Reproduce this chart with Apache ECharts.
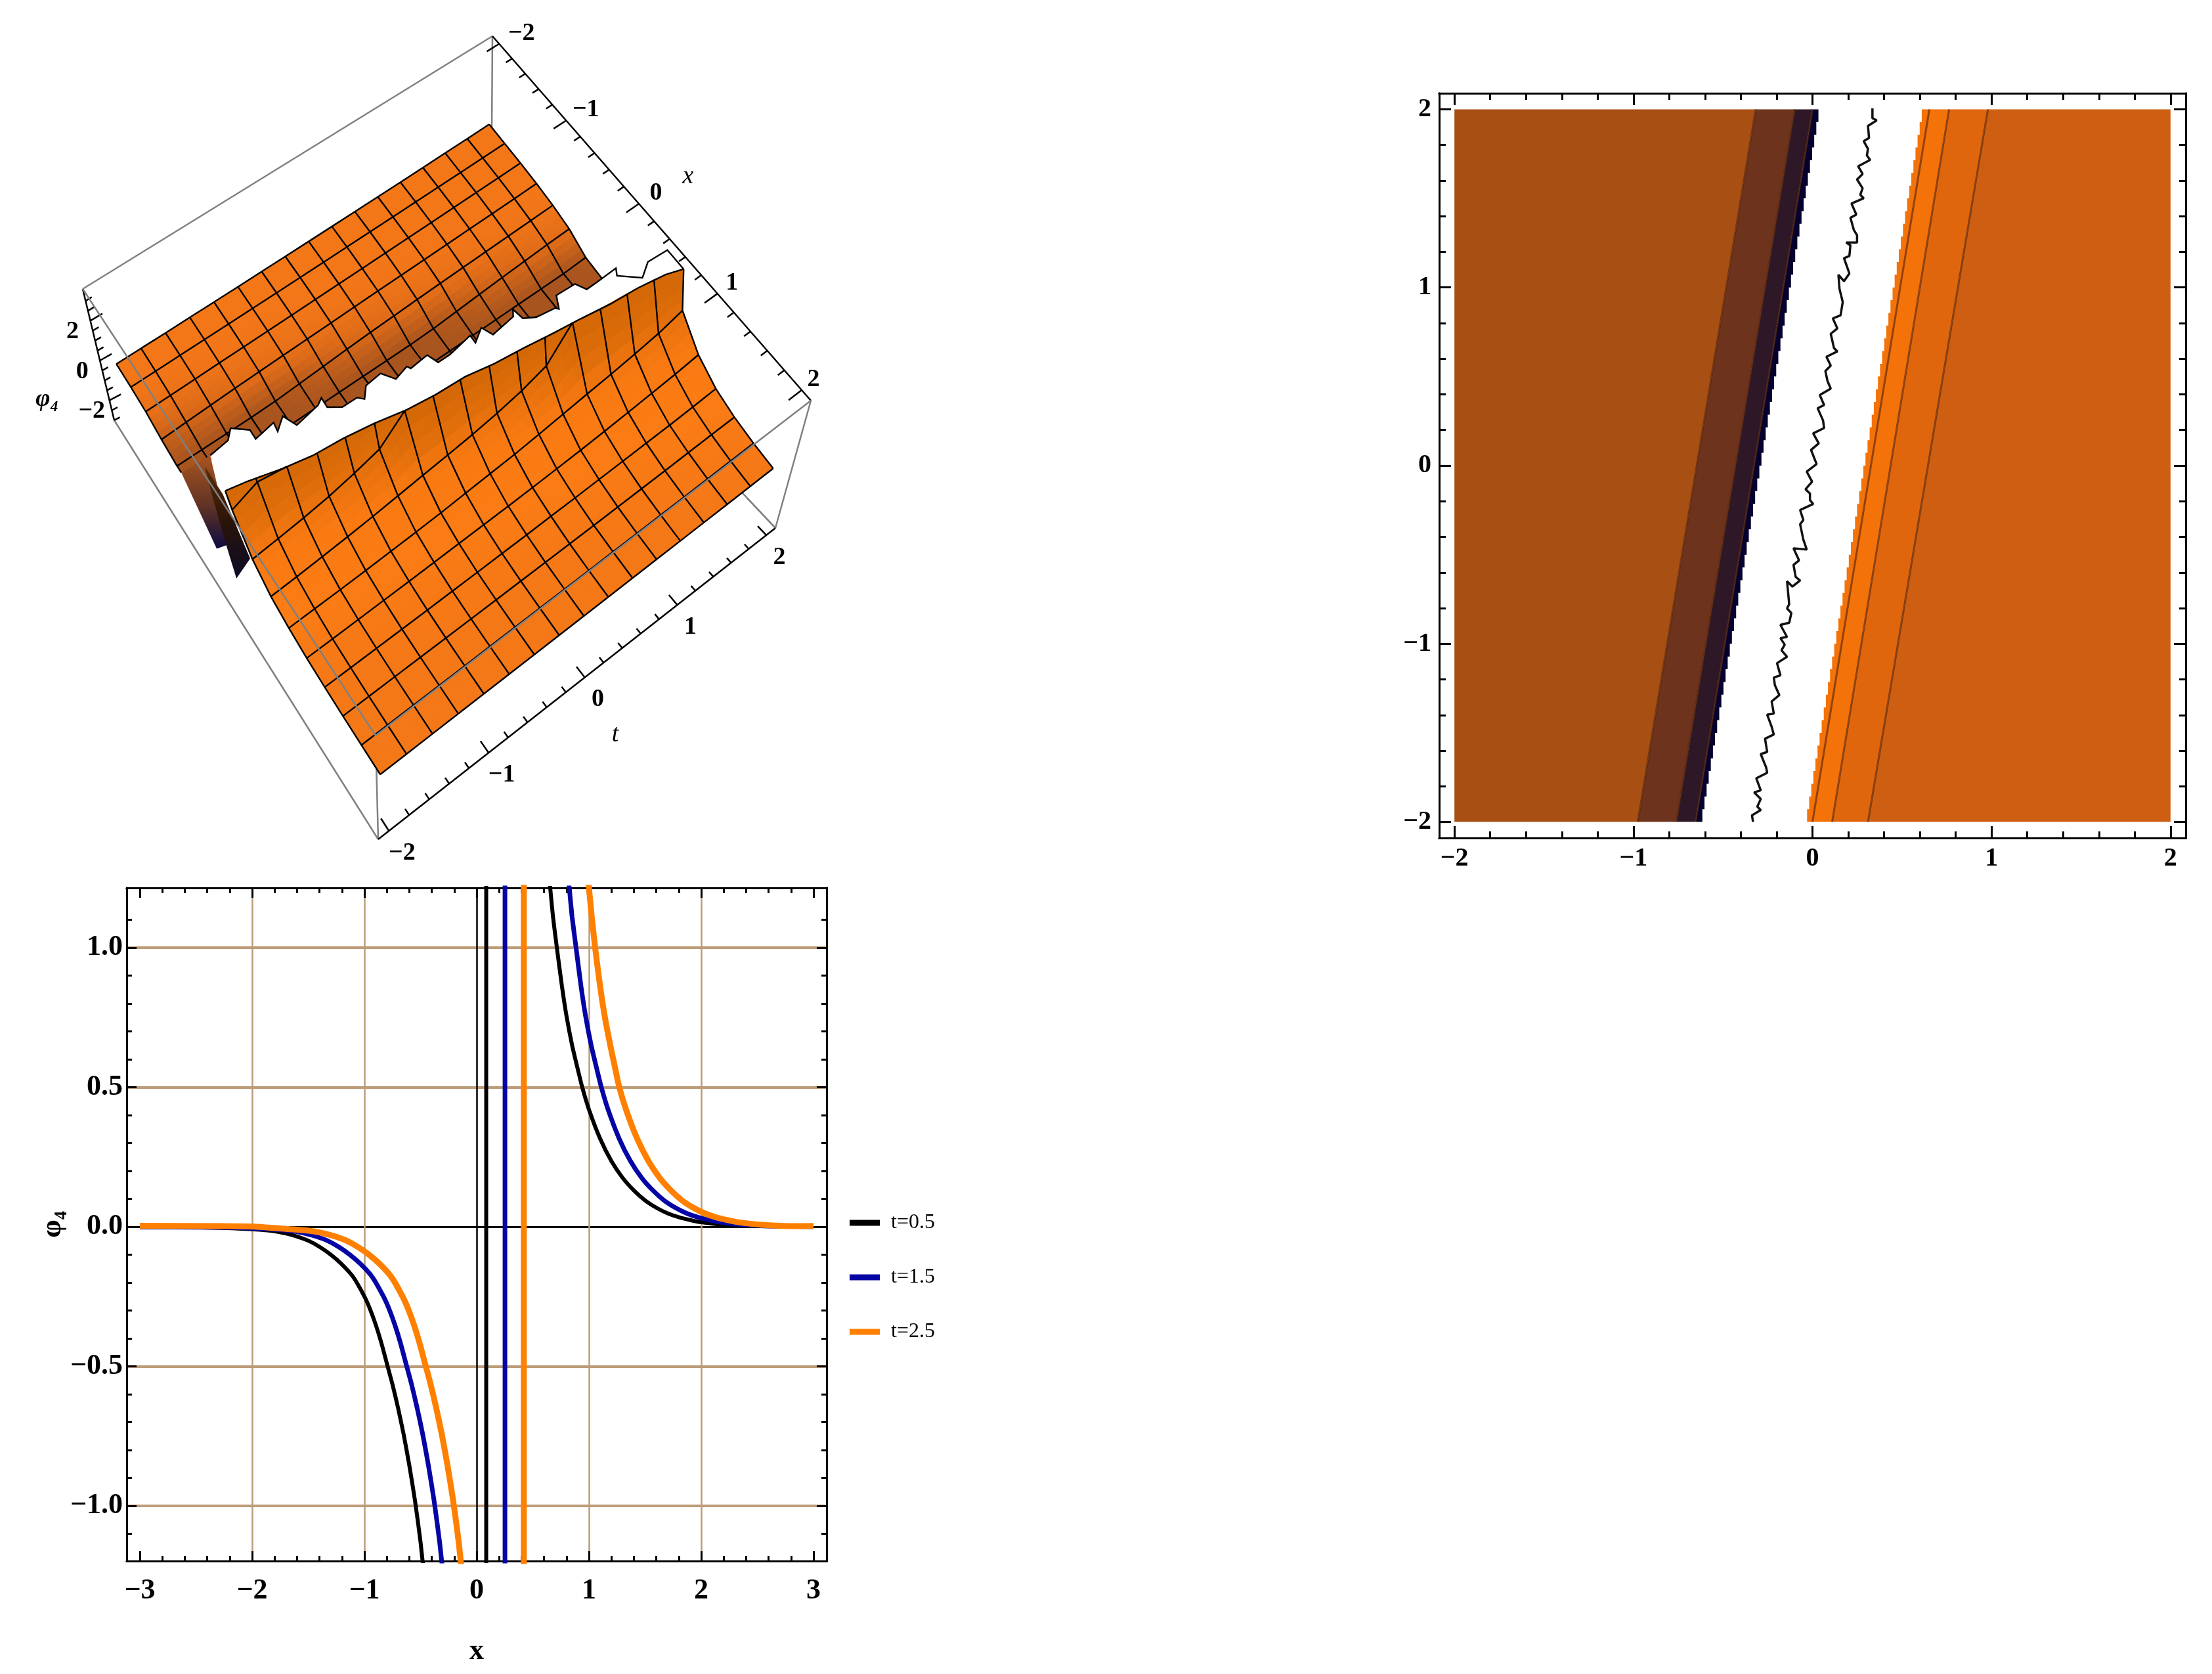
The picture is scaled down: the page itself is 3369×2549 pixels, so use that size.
<!DOCTYPE html>
<html>
<head>
<meta charset="utf-8">
<title>phi4</title>
<script src="https://cdn.jsdelivr.net/npm/echarts@6/dist/echarts.min.js"></script>
<style>
  html, body { margin: 0; padding: 0; background: #fff; }
  #chart { width: 3369px; height: 2549px; }
</style>
</head>
<body>
<div id="chart"></div>
<script>
// ---- line chart: x, phi4 pairs
const legendNames = ["t=0.5", "t=1.5", "t=2.5"];
const lineColors = ["#000000", "#0505A5", "#FF8000"];
const lineWidths = [6, 7, 9];
const blackCurve = [[-3,-0.001],[-2.6,-0.002],[-2.3,-0.004],[-2,-0.009],[-1.9,-0.012],[-1.8,-0.016],[-1.7,-0.024],[-1.6,-0.035],[-1.5,-0.05],[-1.4,-0.072],[-1.3,-0.1],[-1.2,-0.135],[-1.1,-0.18],[-1,-0.25],[-0.95,-0.295],[-0.9,-0.35],[-0.85,-0.415],[-0.8,-0.49],[-0.75,-0.565],[-0.7,-0.65],[-0.65,-0.745],[-0.6,-0.855],[-0.55,-0.98],[-0.5,-1.13],[-0.45,-1.32],
  [null,null],[0.085,-1.4],[0.085,1.4],[null,null],
  [0.62,1.36],[0.655,1.214],[0.68,1.11],[0.714,1],[0.76,0.86],[0.8,0.755],[0.85,0.65],[0.9,0.565],[0.94,0.5],[1,0.42],[1.1,0.315],[1.2,0.235],[1.3,0.175],[1.4,0.13],[1.5,0.094],[1.6,0.068],[1.7,0.048],[1.8,0.034],[1.9,0.024],[2,0.016],[2.2,0.007],[2.5,0.002],[3,0]];
const blueCurve = [[-3,-0.001],[-2.43,-0.002],[-2.13,-0.004],[-1.83,-0.009],[-1.73,-0.012],[-1.63,-0.016],[-1.53,-0.024],[-1.43,-0.035],[-1.33,-0.05],[-1.23,-0.072],[-1.13,-0.1],[-1.03,-0.135],[-0.93,-0.18],[-0.83,-0.25],[-0.78,-0.295],[-0.73,-0.35],[-0.68,-0.415],[-0.63,-0.49],[-0.58,-0.565],[-0.53,-0.65],[-0.48,-0.745],[-0.43,-0.855],[-0.38,-0.98],[-0.33,-1.13],[-0.28,-1.32],
  [null,null],[0.252,-1.4],[0.252,1.4],[null,null],
  [0.79,1.36],[0.825,1.214],[0.85,1.11],[0.885,1],[0.93,0.86],[0.97,0.755],[1.02,0.65],[1.07,0.565],[1.11,0.5],[1.17,0.42],[1.27,0.315],[1.37,0.235],[1.47,0.175],[1.57,0.13],[1.67,0.094],[1.77,0.068],[1.87,0.048],[1.97,0.034],[2.07,0.024],[2.17,0.016],[2.37,0.007],[2.67,0.002],[3,0]];
const orangeCurve = [[-3,0.003],[-2.26,0.002],[-1.96,0],[-1.66,-0.009],[-1.56,-0.012],[-1.46,-0.016],[-1.36,-0.024],[-1.26,-0.035],[-1.16,-0.05],[-1.06,-0.072],[-0.96,-0.1],[-0.86,-0.135],[-0.76,-0.18],[-0.66,-0.25],[-0.61,-0.295],[-0.56,-0.35],[-0.51,-0.415],[-0.46,-0.49],[-0.41,-0.565],[-0.36,-0.65],[-0.31,-0.745],[-0.26,-0.855],[-0.21,-0.98],[-0.16,-1.13],[-0.11,-1.32],
  [null,null],[0.42,-1.4],[0.42,1.4],[null,null],
  [0.965,1.36],[1,1.214],[1.025,1.11],[1.055,1],[1.1,0.86],[1.14,0.755],[1.19,0.65],[1.235,0.565],[1.27,0.5],[1.33,0.42],[1.43,0.315],[1.53,0.235],[1.63,0.175],[1.73,0.13],[1.83,0.094],[1.93,0.068],[2.03,0.048],[2.13,0.034],[2.23,0.024],[2.33,0.016],[2.54,0.007],[2.84,0.002],[3,0.003]];
const lineXMajor = [-3,-2,-1,0,1,2,3];
const lineXMinor = [-2.8,-2.6,-2.4,-2.2,-1.8,-1.6,-1.4,-1.2,-0.8,-0.6,-0.4,-0.2,0.2,0.4,0.6,0.8,1.2,1.4,1.6,1.8,2.2,2.4,2.6,2.8];
const lineYMajor = [-1,-0.5,0,0.5,1];
const lineYMinor = [-1.1,-0.9,-0.8,-0.7,-0.6,-0.4,-0.3,-0.2,-0.1,0.1,0.2,0.3,0.4,0.6,0.7,0.8,0.9,1.1];
const lineXGrid = [-2,-1,1,2];
const lineYGrid = [-1,-0.5,0.5,1];

// ---- contour plot: band edges as x at y=-2 and at y=2
const bandFromBottom = [-2,-0.976,-0.761,-0.653,-0.03,0.11,0.31];
const bandFromTop = [-2,-0.317,-0.1,0,0.622,0.763,0.98];
const bandToBottom = [-0.976,-0.761,-0.653,-0.615,0.11,0.31,2];
const bandToTop = [-0.317,-0.1,0,0.045,0.763,0.98,2];
const bandColors = ["#A84F14","#6E331C","#2E1726","#05002E","#F37209","#E0660E","#CE5F12"];
const contourBottom = [-0.976,-0.761,-0.653,0,0.11,0.31];
const contourTop = [-0.317,-0.1,0,0.653,0.763,0.98];
const waveX = [0.335,0.335,0.359,0.31,0.316,0.286,0.31,0.304,0.322,0.255,0.28,0.249,0.28,0.267,0.286,0.218,0.245,0.212,0.231,0.249,0.249,0.188,0.212,0.206,0.176,0.194,0.206,0.176,0.145,0.151,0.169,0.157,0.114,0.139,0.102,0.12,0.139,0.078,0.102,0.072,0.084,0.102,0.041,0.065,0.029,0.059,0.065,0.004,0.035,-0.008,0.023,-0.032,-0.002,-0.039,-0.014,-0.014,0.004,-0.069,-0.051,-0.069,-0.051,-0.032,-0.106,-0.075,-0.106,-0.094,-0.069,-0.112,-0.142,-0.13,-0.142,-0.118,-0.13,-0.179,-0.142,-0.179,-0.155,-0.173,-0.142,-0.198,-0.179,-0.216,-0.21,-0.185,-0.228,-0.216,-0.253,-0.228,-0.216,-0.265,-0.253,-0.289,-0.259,-0.253,-0.314,-0.289,-0.326,-0.289,-0.308,-0.289,-0.338,-0.332];
const waveY = [2.005,1.95,1.938,1.907,1.839,1.821,1.778,1.741,1.716,1.68,1.637,1.606,1.557,1.52,1.501,1.471,1.409,1.391,1.323,1.293,1.252,1.252,1.237,1.176,1.164,1.114,1.078,1.035,1.071,0.992,0.918,0.844,0.826,0.77,0.74,0.66,0.641,0.611,0.561,0.531,0.475,0.432,0.396,0.34,0.322,0.254,0.211,0.181,0.125,0.088,0.009,-0.034,-0.09,-0.133,-0.157,-0.194,-0.215,-0.249,-0.305,-0.329,-0.415,-0.471,-0.464,-0.532,-0.557,-0.624,-0.645,-0.679,-0.649,-0.778,-0.802,-0.827,-0.882,-0.894,-0.962,-0.968,-1.005,-1.036,-1.073,-1.109,-1.177,-1.189,-1.232,-1.288,-1.324,-1.392,-1.398,-1.466,-1.509,-1.533,-1.607,-1.619,-1.693,-1.724,-1.755,-1.822,-1.834,-1.871,-1.914,-1.933,-1.963,-2];
const contourMajor = [-2,-1,0,1,2];
const contourMinor = [-1.8,-1.6,-1.4,-1.2,-0.8,-0.6,-0.4,-0.2,0.2,0.4,0.6,0.8,1.2,1.4,1.6,1.8];

// ---- surface: phi4 at mesh nodes, one row per t, one column per x
const xGrid = [-2,-1.75,-1.5,-1.25,-1,-0.75,-0.5,-0.25,0,0.25,0.5,0.75,1,1.25,1.5,1.75,2];
const tGrid = [-2,-1.75,-1.5,-1.25,-1,-0.75,-0.5,-0.25,0,0.25,0.5,0.75,1,1.25,1.5,1.75,2];
const phiGrid = [
  [-0.04,-0.09,-0.19,-0.44,-0.92,-3,-3,3,2.4,1.13,0.53,0.27,0.12,0.05,0.02,0.01,0.004],
  [-0.03,-0.08,-0.175,-0.38,-0.83,-3,-3,3,2.9,1.25,0.6,0.3,0.135,0.06,0.024,0.01,0.004],
  [-0.03,-0.07,-0.15,-0.33,-0.74,-1.8,-3,3,3,1.38,0.69,0.33,0.16,0.07,0.03,0.011,0.005],
  [-0.023,-0.06,-0.13,-0.28,-0.66,-1.4,-3,-3,3,1.55,0.78,0.37,0.185,0.08,0.034,0.013,0.005],
  [-0.02,-0.054,-0.12,-0.25,-0.58,-1.2,-3,-3,3,1.8,0.89,0.42,0.21,0.09,0.038,0.015,0.006],
  [-0.017,-0.047,-0.105,-0.22,-0.51,-1.03,-3,-3,3,2.1,1.02,0.47,0.24,0.105,0.045,0.018,0.007],
  [-0.014,-0.04,-0.09,-0.19,-0.44,-0.92,-2.6,-3,3,2.5,1.15,0.53,0.27,0.12,0.052,0.022,0.008],
  [-0.012,-0.033,-0.08,-0.17,-0.37,-0.82,-2,-3,3,3,1.27,0.62,0.3,0.14,0.06,0.025,0.01],
  [-0.01,-0.027,-0.07,-0.15,-0.32,-0.73,-1.7,-3,3,3,1.4,0.7,0.33,0.16,0.07,0.03,0.011],
  [-0.009,-0.023,-0.06,-0.13,-0.28,-0.66,-1.42,-3,-3,3,1.57,0.78,0.37,0.19,0.08,0.034,0.014],
  [-0.008,-0.02,-0.053,-0.115,-0.245,-0.57,-1.18,-3,-3,3,1.8,0.9,0.42,0.21,0.09,0.04,0.016],
  [-0.007,-0.017,-0.046,-0.1,-0.215,-0.5,-1.02,-2.9,-3,3,2.15,1.03,0.47,0.24,0.105,0.046,0.019],
  [-0.006,-0.014,-0.037,-0.09,-0.19,-0.43,-0.9,-2.4,-3,3,2.6,1.16,0.54,0.27,0.125,0.054,0.022],
  [-0.005,-0.012,-0.032,-0.08,-0.17,-0.37,-0.81,-1.95,-3,3,3,1.28,0.62,0.3,0.14,0.062,0.025],
  [-0.004,-0.01,-0.027,-0.07,-0.15,-0.32,-0.72,-1.65,-3,-3,3,1.42,0.71,0.33,0.165,0.07,0.03],
  [-0.004,-0.009,-0.023,-0.06,-0.13,-0.27,-0.64,-1.38,-3,-3,3,1.58,0.8,0.38,0.19,0.085,0.035],
  [-0.003,-0.008,-0.02,-0.052,-0.115,-0.24,-0.55,-1.15,-3,-3,3,1.85,0.92,0.44,0.21,0.095,0.04]
];
// where each t row stops on either side of the tear
const backEdgeX = [-0.93,-0.88,-0.83,-0.78,-0.7,-0.66,-0.6,-0.54,-0.53,-0.48,-0.44,-0.4,-0.36,-0.33,-0.22,-0.22,-0.22];
const frontEdgeX = [-0.077,-0.02,0.05,0.11,0.14,0.19,0.255,0.295,0.32,0.375,0.415,0.46,0.5,0.545,0.58,0.62,0.696];
const backEdgePhi = -0.6;
const frontEdgePhi = [3,3,3,3.03,3.06,3.1,3.13,3.16,3.2,3.23,3.26,3.3,3.33,3.36,3.4,3.42,3.45];
// torn edges of the two sheets
const tearBackX = [-0.917,-0.942,-1.021,-0.912,-0.816,-0.85,-0.763,-0.853,-0.716,-0.758,-0.798,-0.698,-0.623,-0.621,-0.572,-0.666,-0.684,-0.564,-0.603,-0.568,-0.585,-0.474,-0.473,-0.513,-0.431,-0.515,-0.402,-0.434,-0.491,-0.371,-0.31,-0.282,-0.255,-0.371,-0.361,-0.258,-0.26];
const tearBackT = [-1.718,-1.522,-1.447,-1.318,-1.32,-1.115,-1.129,-1.019,-0.963,-0.718,-0.655,-0.66,-0.553,-0.402,-0.356,-0.277,-0.111,-0.031,0.112,0.129,0.317,0.356,0.482,0.729,0.727,0.851,0.897,1.142,1.18,1.201,1.303,1.489,1.513,1.572,1.774,1.827,1.955];
const tearBackPhi = -0.6;
const tearEndX = [-0.093,-0.07,0.244,0.286,0.49,0.696];
const tearEndPhi = [0.4,0.17,1.24,2.07,3.4,3.45];
const tearFrontX = [-0.077,-0.036,0.043,0.103,0.138,0.19,0.258,0.3,0.327,0.384,0.425,0.474,0.514,0.563,0.595,0.642,0.696];
const tearFrontT = [-2,-1.815,-1.541,-1.288,-1.018,-0.755,-0.481,-0.224,0.045,0.297,0.561,0.824,1.074,1.341,1.602,1.854,2];
// the dark flaps at the t=-2 end of the tear
const flapOneX = [-0.93,-0.917,-0.54,-0.433];
const flapOneT = [-2,-1.718,-1.815,-2];
const flapOnePhi = [-0.6,-0.6,-3,-2.1];
const flapTwoX = [-0.404,-0.133,0.21,-0.113,-0.226,-0.35];
const flapTwoPhi = [2.5,2.5,0.93,-2,-0.7,1.3];
const axis3dX = [-2,-1,0,1,2];
const axis3dT = [-2,-1,0,1,2];
const axis3dPhi = [-2,0,2];

const serif = '"Liberation Serif", "Times New Roman", serif';

// ---- surface view: corners of the box on the page, [t=-2, t=2] per x end
const boxTop = [[[126,440],[750,55]],[[572,1120],[1235,610]]];
const boxBottom = [[[174,640],[748,345]],[[576,1278],[1181,804]]];
const zeroLevel = [[0.545,0.39],[0.58,0.56]];
const zSpan = 6.6;
const boxPad = 0.025;

function warpU(u) { return u * (1 - 0.16 * (1 - u)); }
function warpV(v) { return v * (1 + 0.08 * (1 - v)); }
function toU(x) { return warpU(boxPad + (1 - 2 * boxPad) * (x + 2) / 4); }
function toV(t) { return warpV(boxPad + (1 - 2 * boxPad) * (t + 2) / 4); }
function mix2(c, u, v) {
  return c[0][0] * (1 - u) * (1 - v) + c[0][1] * (1 - u) * v + c[1][0] * u * (1 - v) + c[1][1] * u * v;
}
function pick(c, i) { return [[c[0][0][i], c[0][1][i]], [c[1][0][i], c[1][1][i]]]; }
// u, v, s all run 0..1 across the box, s from its top face down
function boxPoint(u, v, s) {
  return [0, 1].map((i) => {
    const a = mix2(pick(boxTop, i), u, v), b = mix2(pick(boxBottom, i), u, v);
    return a + (b - a) * s;
  });
}
function project(p) {
  const u = toU(p[0]), v = toV(p[1]);
  return boxPoint(u, v, mix2(zeroLevel, u, v) - p[2] / zSpan);
}

const phiStops = [[-3,[14,12,56]],[-2,[58,32,48]],[-1,[110,58,32]],[-0.6,[168,84,30]],[-0.3,[222,107,24]],[-0.1,[242,118,24]],[0.3,[251,124,20]],[1,[250,122,18]],[2,[224,110,10]],[3,[212,104,6]]];
function phiColor(phi) {
  let i = 0;
  while (i < phiStops.length - 2 && phi > phiStops[i + 1][0]) i++;
  const a = phiStops[i], b = phiStops[i + 1];
  const f = Math.min(1, Math.max(0, (phi - a[0]) / (b[0] - a[0])));
  const c = a[1].map((v, n) => Math.round(v + (b[1][n] - v) * f));
  return "rgb(" + c.join(",") + ")";
}

const sceneItems = [];
function addLine(points, stroke, width) { sceneItems.push({ points, stroke, width }); }
function addFill(points, fill, stroke) { sceneItems.push({ points, fill, stroke: stroke || fill, width: 1 }); }
function addText(text, at, font) { sceneItems.push({ text, at, font }); }

function backNode(k, j) {
  const over = xGrid[j] >= backEdgeX[k];
  return { over, p: [over ? backEdgeX[k] : xGrid[j], tGrid[k], over ? backEdgePhi : Math.max(phiGrid[k][j], backEdgePhi)] };
}
function frontNode(k, j) {
  const over = xGrid[j] <= frontEdgeX[k];
  return { over, p: [over ? frontEdgeX[k] : xGrid[j], tGrid[k], over ? frontEdgePhi[k] : Math.min(phiGrid[k][j], frontEdgePhi[k])] };
}
function addSheet(node) {
  const sub = 4;
  for (let k = 0; k < tGrid.length - 1; k++) {
    for (let j = 0; j < xGrid.length - 1; j++) {
      const a = node(k, j), b = node(k, j + 1), c = node(k + 1, j + 1), d = node(k + 1, j);
      if (a.over && b.over && c.over && d.over) continue;
      for (let m = 0; m < sub; m++) {
        for (let n = 0; n < sub; n++) {
          const at = (f, g) => a.p.map((_, i) => (a.p[i] * (1 - f) + b.p[i] * f) * (1 - g) + (d.p[i] * (1 - f) + c.p[i] * f) * g);
          const mid = at((m + 0.5) / sub, (n + 0.5) / sub);
          addFill([at(m / sub, n / sub), at((m + 1) / sub, n / sub), at((m + 1) / sub, (n + 1) / sub), at(m / sub, (n + 1) / sub)].map(project), phiColor(mid[2]));
        }
      }
    }
  }
  for (let k = 0; k < tGrid.length; k++) {
    const row = [];
    for (let j = 0; j < xGrid.length; j++) {
      const a = node(k, j);
      if (!a.over || (j > 0 && !node(k, j - 1).over) || (j < xGrid.length - 1 && !node(k, j + 1).over)) row.push(project(a.p));
    }
    addLine(row, "#000", 2.4);
  }
  for (let j = 0; j < xGrid.length; j++) {
    for (let k = 0; k < tGrid.length - 1; k++) {
      const a = node(k, j), b = node(k + 1, j);
      if (a.over && b.over) continue;
      addLine([project(a.p), project(b.p)], "#000", 2.4);
    }
  }
}
function tickRange(lo, hi, step) {
  const out = [];
  for (let n = Math.round(lo / step); n <= Math.round(hi / step); n++) out.push(n * step);
  return out;
}

function buildScene() {
  const gray = "#808080";
  // back edges of the box
  addLine([boxPoint(0,0,0), boxPoint(0,1,0)], gray, 2.5);
  addLine([boxPoint(0,1,0), boxPoint(0,1,1)], gray, 2.5);
  addLine([boxPoint(1,1,0), boxPoint(1,1,1)], gray, 2.5);
  addLine([boxPoint(0,1,1), boxPoint(1,1,1)], gray, 2.5);
  addLine([boxPoint(0,0,1), boxPoint(1,0,1)], gray, 2.5);
  addLine([boxPoint(1,0,0), boxPoint(1,0,1)], gray, 2.5);
  // x axis along the top back edge
  addLine([boxPoint(0,1,0), boxPoint(1,1,0)], "#000", 2.5);
  tickRange(-2, 2, 0.2).forEach((x) => {
    const major = Math.abs(x - Math.round(x)) < 0.01;
    addLine([boxPoint(toU(x),1,0), boxPoint(toU(x),major ? 0.97 : 0.985,0)], "#000", 2.5);
  });
  axis3dX.forEach((x) => {
    const u = (x + 2) / 4, p = boxPoint(toU(x),1,0);
    addText(x < 0 ? "\u2212" + (-x) : String(x), [p[0] + 34 - 16 * u, p[1] - 16], "bold 38px " + serif);
  });
  // phi axis on the left edge
  const leftZero = zeroLevel[0][0];
  addLine([boxPoint(0,0,0), boxPoint(0,0,1)], "#000", 2.5);
  tickRange(-3, 3, 0.5).forEach((phi) => {
    const major = phi % 2 === 0, s = leftZero - phi / zSpan;
    addLine([boxPoint(0,0,s), boxPoint(0,major ? 0.03 : 0.015,s)], "#000", 2.5);
  });
  axis3dPhi.forEach((phi) => {
    const p = boxPoint(0,0,leftZero - phi / zSpan);
    addText(phi < 0 ? "\u2212" + (-phi) : String(phi), [p[0] - 27, p[1] + 17], "bold 38px " + serif);
  });
  addText("\u03c6\u2084", [72, 608], "italic bold 38px " + serif);
  addText("x", [1048, 269], "italic 38px " + serif);

  addSheet(backNode);

  // the torn gap between the sheets
  const back3d = tearBackX.map((x, i) => [x, tearBackT[i], tearBackPhi]);
  const end3d = tearEndX.map((x, i) => [x, 2, tearEndPhi[i]]);
  const front3d = tearFrontX.map((x, i) => [x, tearFrontT[i], frontEdgePhi[i]]);
  addFill(back3d.concat(end3d, front3d.slice().reverse()).map(project), "#fff");
  addLine(back3d.concat(end3d).map(project), "#000", 2.4);

  addFill(flapOneX.map((x, i) => project([x, flapOneT[i], flapOnePhi[i]])), { type: "linear", x: 0, y: 0, x2: 0, y2: 1, colorStops: [{ offset: 0, color: "#A8551E" }, { offset: 0.55, color: "#5E3226" }, { offset: 1, color: "#0C0A40" }] }, "rgba(0,0,0,0)");
  addFill(flapTwoX.map((x, i) => project([x, -2, flapTwoPhi[i]])), { type: "linear", x: 0, y: 0, x2: 0, y2: 1, colorStops: [{ offset: 0, color: "#5A2C08" }, { offset: 0.5, color: "#2A1408" }, { offset: 1, color: "#0A0A28" }] }, "rgba(0,0,0,0)");

  addSheet(frontNode);
  addLine(front3d.map(project), "#000", 2.4);

  // front edges drawn over the surface
  addLine([boxPoint(0,0,0), boxPoint(1,0,0)], gray, 2.5);
  addLine([boxPoint(1,0,0), boxPoint(1,1,0)], gray, 2.5);
  addLine([boxPoint(1,1,1), boxPoint(0.9,1,1)], gray, 2.5);
  // t axis along the bottom front edge
  addLine([boxPoint(1,0,1), boxPoint(1,1,1)], "#000", 2.5);
  tickRange(-2, 2, 0.2).forEach((t) => {
    const major = Math.abs(t - Math.round(t)) < 0.01;
    addLine([boxPoint(1,toV(t),1), boxPoint(major ? 0.97 : 0.985,toV(t),1)], "#000", 2.5);
  });
  axis3dT.forEach((t) => {
    const p = boxPoint(1,toV(t),1);
    addText(t < 0 ? "\u2212" + (-t) : String(t), [p[0] + 20, p[1] + 34], "bold 38px " + serif);
  });
  addText("t", [937, 1119], "italic 38px " + serif);
}
buildScene();

function renderScene(params, api) {
  const it = sceneItems[api.value(0)];
  if (it.text) {
    const c = api.coord(it.at);
    return { type: "text", style: { text: it.text, x: c[0], y: c[1], fill: "#000", font: it.font, textAlign: "center", textVerticalAlign: "middle" } };
  }
  const points = it.points.map((p) => api.coord(p));
  if (it.fill) return { type: "polygon", shape: { points }, style: { fill: it.fill, stroke: it.stroke, lineWidth: it.width } };
  return { type: "polyline", shape: { points }, style: { fill: null, stroke: it.stroke, lineWidth: it.width } };
}

// ---- axes
function signed(v, digits) {
  const s = Math.abs(v).toFixed(digits);
  return v < 0 ? "\u2212" + s : s;
}
function frameAxes(opts) {
  const both = opts.kind === "x" ? ["bottom", "top"] : ["left", "right"];
  const out = [];
  both.forEach((position, side) => {
    [opts.major, opts.minor].forEach((values, level) => {
      const axis = {
        type: "value", gridIndex: opts.grid, min: opts.min, max: opts.max, position,
        axisLine: { show: true, onZero: false, lineStyle: { color: "#000", width: 3 } },
        axisTick: { show: true, inside: true, length: level === 0 ? opts.tickMajor : opts.tickMinor, customValues: values, lineStyle: { color: "#000", width: 3 } },
        axisLabel: { show: false },
        splitLine: { show: false },
      };
      if (side === 0 && level === 0) {
        axis.axisLabel = {
          show: true, customValues: values, margin: opts.margin, color: "#000",
          fontFamily: serif, fontWeight: "bold", fontSize: opts.fontSize,
          formatter: (v) => signed(v, opts.digits),
        };
        if (opts.name) {
          axis.name = opts.name;
          axis.nameLocation = "middle";
          axis.nameGap = opts.nameGap;
          axis.nameTextStyle = { color: "#000", fontFamily: serif, fontWeight: "bold", fontSize: opts.nameSize };
        }
      }
      out.push(axis);
    });
  });
  return out;
}
function gridAxis(kind, grid, min, max, values, color, width) {
  return {
    type: "value", gridIndex: grid, min, max, position: kind === "x" ? "bottom" : "left",
    axisLine: { show: false, onZero: false },
    axisTick: { show: false, customValues: values },
    axisLabel: { show: false },
    splitLine: { show: true, lineStyle: { color, width } },
  };
}

const lineX = [-3.117, 3.117], lineY = [-1.198, 1.214];
const contourX = [-2.085, 2.085], contourY = [-2.09, 2.09];

const xAxes = [
  ...frameAxes({ kind: "x", grid: 0, min: lineX[0], max: lineX[1], major: lineXMajor, minor: lineXMinor, tickMajor: 15, tickMinor: 8, margin: 24, fontSize: 44, digits: 0, name: "x", nameGap: 116, nameSize: 44 }),
  gridAxis("x", 0, lineX[0], lineX[1], lineXGrid, "#BC9C78", 2.5),
  gridAxis("x", 0, lineX[0], lineX[1], [0], "#000", 2.5),
  ...frameAxes({ kind: "x", grid: 1, min: contourX[0], max: contourX[1], major: contourMajor, minor: contourMinor, tickMajor: 18, tickMinor: 10, margin: 12, fontSize: 40, digits: 0 }),
  { type: "value", gridIndex: 2, min: 0, max: 3369, show: false },
];
const yAxes = [
  ...frameAxes({ kind: "y", grid: 0, min: lineY[0], max: lineY[1], major: lineYMajor, minor: lineYMinor, tickMajor: 15, tickMinor: 8, margin: 6, fontSize: 44, digits: 1, name: "\u03c6\u2084", nameGap: 86, nameSize: 44 }),
  gridAxis("y", 0, lineY[0], lineY[1], lineYGrid, "#BC9C78", 4),
  gridAxis("y", 0, lineY[0], lineY[1], [0], "#000", 3),
  ...frameAxes({ kind: "y", grid: 1, min: contourY[0], max: contourY[1], major: contourMajor, minor: contourMinor, tickMajor: 18, tickMinor: 10, margin: 12, fontSize: 40, digits: 0 }),
  { type: "value", gridIndex: 2, min: 0, max: 2549, inverse: true, show: false },
];
const contourAxisIndex = 6;
const pageAxisIndex = 10;

function lineSeries(i, data) {
  return {
    name: legendNames[i], type: "line", data, xAxisIndex: 0, yAxisIndex: 0,
    showSymbol: false, smooth: 0.2, connectNulls: false, clip: true, z: 3 + i,
    lineStyle: { color: lineColors[i], width: lineWidths[i] },
    itemStyle: { color: lineColors[i] },
  };
}

// the dark band and the first orange band have stair-stepped outer edges
const stairSteps = 56;
function stairEdge(x0, x1) {
  const pts = [];
  for (let n = 0; n < stairSteps; n++) {
    const x = x0 + (x1 - x0) * n / stairSteps;
    pts.push([x, -2 + 4 * n / stairSteps], [x, -2 + 4 * (n + 1) / stairSteps]);
  }
  return pts;
}
function renderBand(params, api) {
  const i = api.value(0);
  const right = i === 3 ? stairEdge(bandToBottom[i], bandToTop[i]) : [[bandToBottom[i], -2], [bandToTop[i], 2]];
  const left = i === 4 ? stairEdge(bandFromBottom[i], bandFromTop[i]) : [[bandFromBottom[i], -2], [bandFromTop[i], 2]];
  const pts = left.concat(right.slice().reverse());
  return { type: "polygon", shape: { points: pts.map((p) => api.coord(p)) }, style: { fill: bandColors[i] } };
}
function renderContour(params, api) {
  const i = api.value(0);
  return { type: "polyline", shape: { points: [api.coord([contourBottom[i], -2]), api.coord([contourTop[i], 2])] }, style: { fill: null, stroke: "rgba(90,40,10,0.65)", lineWidth: 3 } };
}

const option = {
  animation: false,
  backgroundColor: "#fff",
  grid: [
    { left: 193, top: 1352, width: 1066, height: 1025 },
    { left: 2192, top: 142, width: 1137, height: 1134 },
    { left: 0, top: 0, width: 3369, height: 2549 },
  ],
  legend: {
    data: legendNames, orient: "vertical", left: 1289, top: 1841, icon: "rect",
    itemWidth: 46, itemHeight: 9, itemGap: 51, selectedMode: false,
    textStyle: { color: "#000", fontFamily: serif, fontSize: 32, padding: [0, 0, 0, 12] },
  },
  xAxis: xAxes,
  yAxis: yAxes,
  series: [
    lineSeries(0, blackCurve),
    lineSeries(1, blueCurve),
    lineSeries(2, orangeCurve),
    {
      type: "custom", coordinateSystem: "cartesian2d", xAxisIndex: contourAxisIndex, yAxisIndex: contourAxisIndex,
      data: bandColors.map((_, i) => [i]), renderItem: renderBand, silent: true, z: 2,
    },
    {
      type: "custom", coordinateSystem: "cartesian2d", xAxisIndex: contourAxisIndex, yAxisIndex: contourAxisIndex,
      data: contourBottom.map((_, i) => [i]), renderItem: renderContour, silent: true, z: 3,
    },
    {
      type: "line", xAxisIndex: contourAxisIndex, yAxisIndex: contourAxisIndex,
      data: waveX.map((x, i) => [x, waveY[i]]), showSymbol: false, silent: true, clip: false, z: 4,
      lineStyle: { color: "#111", width: 3.5 },
    },
    {
      type: "custom", coordinateSystem: "cartesian2d", xAxisIndex: pageAxisIndex, yAxisIndex: pageAxisIndex,
      data: sceneItems.map((_, i) => [i]), renderItem: renderScene, silent: true, clip: false, z: 2, progressive: 0,
    },
  ],
};

const myChart = echarts.init(document.getElementById("chart"));
myChart.setOption(option);
</script>
</body>
</html>
